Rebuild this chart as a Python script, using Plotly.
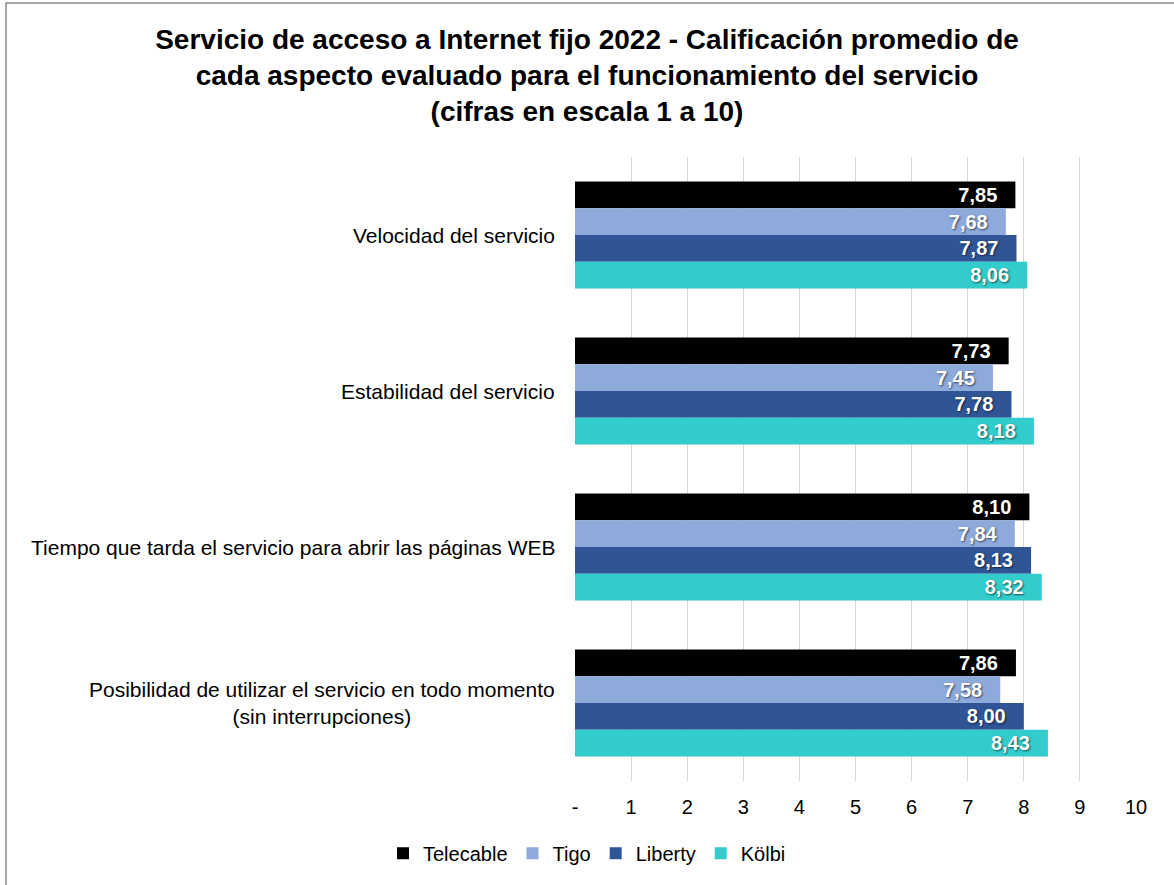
import plotly.graph_objects as go

categories = [
    "Velocidad del servicio",
    "Estabilidad del servicio",
    "Tiempo que tarda el servicio para abrir las páginas WEB",
    "Posibilidad de utilizar el servicio en todo momento<br>(sin interrupciones)",
]
series_names = ["Telecable", "Tigo", "Liberty", "Kölbi"]
telecable = [7.85, 7.73, 8.10, 7.86]
tigo = [7.68, 7.45, 7.84, 7.58]
liberty = [7.87, 7.78, 8.13, 8.00]
kolbi = [8.06, 8.18, 8.32, 8.43]
colors = ["#000000", "#8EAADB", "#2F5597", "#33CCCC"]
tick_vals = list(range(0, 11))
tick_text = ["-"] + [str(i) for i in range(1, 11)]

FONT = "Arial"

fig = go.Figure()
for name, vals, col in zip(series_names, [telecable, tigo, liberty, kolbi], colors):
    fig.add_trace(go.Bar(
        y=categories, x=vals, name=name, orientation="h",
        marker=dict(color=col, line=dict(width=0)),
        texttemplate="%{x:.2f}\u00a0\u00a0\u2009",
        textposition="inside", insidetextanchor="end",
        textfont=dict(family=FONT, size=20, color="white",
                      weight="bold", shadow="1px 1px 2px rgba(0,0,0,0.6)"),
        constraintext="none",
        hoverinfo="skip",
    ))

for c in categories:
    fig.add_annotation(
        x=0, xref="paper", y=c, yref="y", text=c, showarrow=False,
        xanchor="right", xshift=-18, align="center",
        font=dict(family=FONT, size=21, color="#000000"),
    )

fig.add_shape(type="rect", xref="paper", yref="paper",
              x0=-1.0143, x1=1.08, y0=-0.2, y1=1.2468,
              line=dict(color="#8A8A8A", width=1.5), fillcolor="rgba(0,0,0,0)", layer="below")

fig.update_layout(
    width=1174, height=885,
    barmode="group", bargap=0.314, bargroupgap=0,
    separators=",.",
    paper_bgcolor="white", plot_bgcolor="white",
    margin=dict(l=575, r=38, t=157, b=104),
    title=dict(
        text="<b>Servicio de acceso a Internet fijo 2022 - Calificación promedio de<br>cada aspecto evaluado para el funcionamiento del servicio<br>(cifras en escala 1 a 10)</b>",
        x=0.5, xref="container", xanchor="center",
        y=0.945, yref="container", yanchor="top",
        font=dict(family=FONT, size=28, color="#000000"),
    ),
    font=dict(family=FONT, size=20, color="#000000"),
    xaxis=dict(
        range=[0, 10], tickvals=tick_vals, ticktext=tick_text,
        showgrid=True, gridcolor="#D9D9D9", gridwidth=1,
        zeroline=False, showline=False, ticks="", ticklabelstandoff=12,
        tickfont=dict(family=FONT, size=20, color="#000000"), fixedrange=True,
    ),
    yaxis=dict(
        autorange="reversed", showticklabels=False, showgrid=False,
        zeroline=False, showline=False, ticks="",
    ),
    legend=dict(
        orientation="h", x=0.5, xref="container", xanchor="center",
        y=0.036, yref="container", yanchor="middle",
        font=dict(family=FONT, size=20, color="#000000"), itemwidth=30,
        traceorder="normal",
    ),
    showlegend=True,
)

fig.write_html("out.html")
